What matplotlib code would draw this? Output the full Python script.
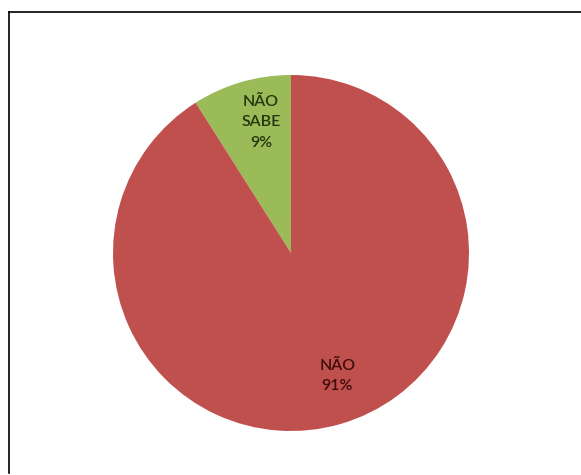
import matplotlib
matplotlib.use("Agg")
import matplotlib.pyplot as plt
from matplotlib.lines import Line2D

categories = ["NÃO SABE", "NÃO"]
label_lines = ["NÃO\nSABE", "NÃO"]
values = [9, 91]
colors = ["#9BBB59", "#C0504D"]
text_colors = ["#26350f", "#3d0c0b"]

W, H = 581, 475
fig = plt.figure(figsize=(W / 100, H / 100), dpi=100)
fig.patch.set_facecolor("white")

cx, cy, R = 291, 253, 178
ax = fig.add_axes([(cx - R) / W, (H - cy - R) / H, 2 * R / W, 2 * R / H])
ax.set_aspect("equal")

total = sum(values)
labels = [f"{l}\n{round(v / total * 100)}%" for l, v in zip(label_lines, values)]
wedges, texts = ax.pie(values, colors=colors, startangle=90, counterclock=True,
                       labels=labels, labeldistance=0.75,
                       wedgeprops=dict(linewidth=0))
offsets = [(0.04, 0.015), (0.05, 0.03)]
for t, c, (dx, dy) in zip(texts, text_colors, offsets):
    t.set_ha("center")
    t.set_va("center")
    t.set_color(c)
    t.set_fontsize(11.5)
    t.set_fontweight("semibold")
    t.set_fontfamily(["Lato", "DejaVu Sans"])
    t.set_linespacing(1.6)
    x, y = t.get_position()
    t.set_position((x + dx, y + dy))

ax.set_xlim(-1, 1)
ax.set_ylim(-1, 1)

# figure frame (top and left edges visible)
fig.add_artist(Line2D([9 / W, 1.0], [1 - 12 / H, 1 - 12 / H], color="black", lw=1.2, transform=fig.transFigure))
fig.add_artist(Line2D([9 / W, 9 / W], [1 - 12 / H, 1 - 473 / H], color="black", lw=1.2, transform=fig.transFigure))

fig.savefig("out.png", dpi=100, facecolor="white")
